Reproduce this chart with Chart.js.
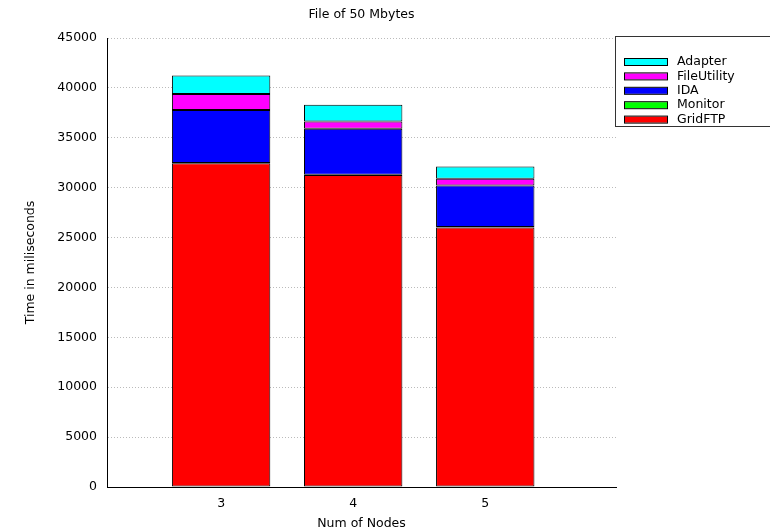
<!DOCTYPE html>
<html>
<head>
<meta charset="utf-8">
<script src="https://cdn.jsdelivr.net/npm/chart.js@4/dist/chart.umd.min.js"></script>
<style>
  html, body { margin: 0; padding: 0; background: #fff; }
  #box { width: 770px; height: 532px; }
</style>
</head>
<body>
<div id="box"><canvas id="graphique"></canvas></div>
<script>
const noeuds = [3, 4, 5];
const gridFtp = [32450, 31260, 26020];
const moniteur = [30, 30, 30];
const ida = [5300, 4610, 4170];
const fileUtility = [1600, 730, 670];
const adapter = [1850, 1680, 1240];
const ticksY = [0, 5000, 10000, 15000, 20000, 25000, 30000, 35000, 40000, 45000];

const police = 'DejaVu Sans, sans-serif';
const taille = 12.5;

const serie = (label, valeurs, couleur) => ({
  label,
  data: noeuds.map((x, i) => ({ x, y: valeurs[i] })),
  backgroundColor: couleur,
  borderColor: '#000',
  borderWidth: 1,
  borderSkipped: false,
});

// legend in a box plus the title, drawn over the chart area
const legendeEncadree = {
  id: 'legendeEncadree',
  afterDraw(chart) {
    const { ctx, chartArea } = chart;
    ctx.save();
    ctx.font = `${taille}px ${police}`;
    ctx.fillStyle = '#000';
    ctx.textAlign = 'center';
    ctx.textBaseline = 'middle';
    ctx.fillText('File of 50 Mbytes', (chartArea.left + chartArea.right) / 2, 15);

    const x0 = chartArea.right - 1;
    ctx.fillStyle = '#fff';
    ctx.fillRect(x0, 36, 200, 91);
    ctx.strokeStyle = '#333';
    ctx.lineWidth = 1;
    ctx.strokeRect(x0 + 0.5, 36.5, 200, 90);

    const jeux = chart.data.datasets.slice().reverse();
    jeux.forEach((ds, i) => {
      const y = 62 + i * 14.4;
      ctx.fillStyle = ds.backgroundColor;
      ctx.fillRect(x0 + 9, y - 3, 43, 6);
      ctx.strokeStyle = '#000';
      ctx.strokeRect(x0 + 9.5, y - 3.5, 43, 7);
      ctx.fillStyle = '#000';
      ctx.textAlign = 'left';
      ctx.fillText(ds.label, x0 + 62, y);
    });
    ctx.restore();
  },
};

new Chart(document.getElementById('graphique'), {
  type: 'bar',
  plugins: [legendeEncadree],
  data: {
    datasets: [
      serie('GridFTP', gridFtp, '#ff0000'),
      serie('Monitor', moniteur, '#00ff00'),
      serie('IDA', ida, '#0000ff'),
      serie('FileUtility', fileUtility, '#ff00ff'),
      serie('Adapter', adapter, '#00ffff'),
    ],
  },
  options: {
    responsive: true,
    maintainAspectRatio: false,
    animation: false,
    devicePixelRatio: 1,
    layout: { padding: { top: 38, right: 154, left: 23, bottom: 0 } },
    datasets: { bar: { barPercentage: 0.745, categoryPercentage: 1 } },
    plugins: {
      legend: { display: false },
      title: { display: false },
      tooltip: { enabled: false },
    },
    scales: {
      x: {
        type: 'linear',
        stacked: true,
        offset: false,
        min: 2.136,
        max: 5.99,
        afterBuildTicks: (scale) => { scale.ticks = noeuds.map((value) => ({ value })); },
        afterFit: (scale) => { scale.height = 45; },
        grid: { display: false, drawTicks: false },
        border: { display: true, color: '#000', width: 1 },
        ticks: {
          color: '#000',
          font: { family: police, size: taille },
          padding: 9,
          callback: (v) => String(v),
        },
        title: {
          display: true,
          text: 'Num of Nodes',
          color: '#000',
          font: { family: police, size: taille },
          padding: { top: 4, bottom: 1 },
        },
      },
      y: {
        stacked: true,
        min: 0,
        max: 45000,
        afterBuildTicks: (scale) => { scale.ticks = ticksY.map((value) => ({ value })); },
        afterFit: (scale) => { scale.width = 84; },
        grid: { color: '#bbb', lineWidth: 1, drawTicks: false, borderDash: [1, 2] },
        border: { display: true, color: '#000', width: 1, dash: [1, 2] },
        ticks: {
          color: '#000',
          font: { family: police, size: taille },
          padding: 10,
          callback: (v) => String(v),
        },
        title: {
          display: true,
          text: 'Time in miliseconds',
          color: '#000',
          font: { family: police, size: taille },
          padding: 0,
        },
      },
    },
  },
});
</script>
</body>
</html>
